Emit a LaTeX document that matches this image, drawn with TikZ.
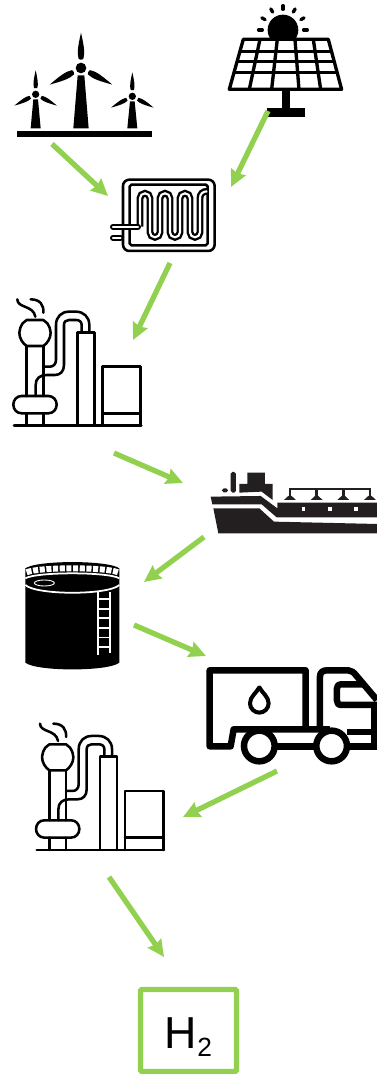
\documentclass[tikz,border=0pt]{standalone}
\usepackage{fontspec}
\setmainfont{Liberation Sans}
\usetikzlibrary{arrows.meta}
\definecolor{flowgreen}{HTML}{92D050}
\definecolor{shipblack}{HTML}{231F20}
\tikzset{
  flowarrow/.style={-{Stealth[length=9.5pt, width=9pt, inset=1pt]}, line width=3pt, flowgreen},
  h2box/.style={draw=flowgreen, line width=3pt, rounded corners=0.8pt, outer sep=0pt, minimum width=1.92cm, minimum height=1.64cm, inner sep=0pt},
  iconpart/.style={shift={#1}, scale=0.3333},
  thinline/.style={line width=1.45pt, line join=round, line cap=round},
  truckline/.style={line width=3.7pt, line join=round},
  whiteline/.style={white, line width=0.95pt}
}
\newcommand{\turbine}[5]{% hub x, hub y, scale, tower top half width, tower bottom half width
  \begin{scope}[shift={(#1,#2)}, scale=#3]
    \foreach \bladeangle in {90,208,332}
      \fill[rotate=\bladeangle] (27,-7) .. controls (45,-13) and (70,-8) .. (106,0) .. controls (70,8) and (45,13) .. (27,7) .. controls (24,3) and (24,-3) .. cycle;
    \fill (0,0) circle (16);
  \end{scope}
  \fill (#1-#4,#2+22*#3) -- (#1+#4,#2+22*#3) -- (#1+#5,385) -- (#1-#5,385) -- cycle;
}
\newcommand{\refinery}{%
  \draw[thinline] (42,467) -- (424,467);
  \draw[thinline] (307,467) -- (307,290) -- (422,290) -- (422,467) (307,430) -- (422,430);
  \draw[thinline] (232,467) -- (232,187) -- (283,187) -- (283,467);
  \draw[thinline] (268,187) -- (268,165) .. controls (268,140) and (250,125) .. (228,125) -- (207,125) .. controls (185,125) and (168,140) .. (168,165) -- (168,270) .. controls (168,282) and (160,290) .. (150,290) -- (130,290);
  \draw[thinline] (245,187) -- (245,165) .. controls (245,155) and (238,150) .. (228,150) -- (207,150) .. controls (198,150) and (192,155) .. (192,165) -- (192,285) .. controls (192,305) and (180,315) .. (165,315) -- (140,315) .. controls (120,315) and (107,325) .. (107,345) -- (107,378);
  \draw[thinline] (80,228) -- (80,378) (130,228) -- (130,378) (80,430) -- (80,467) (130,430) -- (130,467);
  \draw[thinline] (80,150) -- (130,150) -- (142,160) .. controls (148,170) and (152,178) .. (152,188) .. controls (152,205) and (142,220) .. (130,228) -- (80,228) .. controls (68,220) and (58,205) .. (58,188) .. controls (58,178) and (62,170) .. (68,160) -- cycle;
  \draw[thinline] (65,378) -- (145,378) .. controls (160,378) and (170,390) .. (170,404) .. controls (170,418) and (160,430) .. (145,430) -- (65,430) .. controls (50,430) and (40,418) .. (40,404) .. controls (40,390) and (50,378) .. (65,378) -- cycle;
  \draw[thinline] (52,88) .. controls (52,115) and (100,105) .. (106,140);
  \draw[thinline] (92,88) .. controls (120,88) and (132,105) .. (130,128);
}
\begin{document}
\begin{tikzpicture}[x=0.02cm, y=-0.02cm]
  \useasboundingbox (0,0) rectangle (377,1074);
  % wind park and solar panel
  \begin{scope}[iconpart={(0,0)}]
    \turbine{243}{204}{1}{10}{23}
    \turbine{107}{283}{0.68}{7}{15}
    \turbine{397}{289}{0.68}{7}{15}
    \fill (52,393) rectangle (456,410);
    \begin{scope}
      \clip (780,0) rectangle (920,118);
      \fill (849,90) circle (46);
    \end{scope}
    \foreach \rayangle in {0,-30,...,-180}
      \draw[line width=1.9pt, line cap=round] (849,90) ++(\rayangle:62) -- ++(\rayangle:11);
    \draw[line width=1.9pt, line join=round] (730,118) -- (985,118) -- (1025,268) -- (688,268) -- cycle;
    \draw[line width=1.9pt] (720,155) -- (995,155) (711,185) -- (1003,185) (702,217) -- (1012,217);
    \draw[line width=1.9pt] (780,118) -- (748,268) (832,118) -- (815,268) (885,118) -- (897,268) (940,118) -- (962,268);
    \fill (845,268) rectangle (870,330);
    \fill (800,325) rectangle (915,350);
    % electrolyser
    \draw[thinline, rounded corners=3.6pt] (369,539) rectangle (644,753);
    \draw[thinline, rounded corners=1pt] (389,554) rectangle (623,736);
    \foreach \tubewidth/\tubecolor in {3.9pt/black, 1.2pt/white}
      \draw[line width=\tubewidth, \tubecolor] (420,680) -- (420,595) arc[start angle=180, end angle=360, radius=15] -- (450,697) arc[start angle=180, end angle=0, radius=15] -- (480,595) arc[start angle=180, end angle=360, radius=15] -- (510,697) arc[start angle=180, end angle=0, radius=15] -- (540,595) arc[start angle=180, end angle=360, radius=15] -- (570,697) arc[start angle=180, end angle=0, radius=15] -- (600,595) .. controls (600,582) and (608,574) .. (622,574);
    \foreach \tubewidth/\tubecolor in {3.4pt/black, 1.2pt/white}
      \draw[line width=\tubewidth, \tubecolor, line cap=round] (339,680) -- (414,680) (339,713) -- (362,713);
  \end{scope}
  \begin{scope}[iconpart={(0,270)}]
    \refinery
    % ship
    \fill[shipblack] (632,680) -- (782,678) -- (832,715) -- (832,698) -- (1131,698) -- (1131,742) -- (830,742) -- (785,703) -- (637,703) -- cycle;
    \fill[shipblack] (640,715) -- (778,715) -- (822,755) -- (1131,762) -- (1131,790) -- (655,790) -- cycle;
    \fill[shipblack] (718,642) -- (742,642) -- (742,608) -- (795,608) -- (795,642) -- (818,642) -- (818,690) -- (785,665) -- (718,668) -- cycle;
    \fill[shipblack, rounded corners=1pt] (692,606) rectangle (708,668);
    \fill[shipblack, rounded corners=1pt] (666,655) rectangle (684,667);
    \draw[shipblack, line width=1.5pt] (868,657) -- (1113,657);
    \foreach \railx in {870,950,1030,1110} {
      \draw[shipblack, line width=1.5pt] (\railx,657) -- (\railx,680);
      \fill[shipblack] (\railx-18,690) -- (\railx-5,678) -- (\railx+5,678) -- (\railx+18,690) -- cycle;
    }
    \foreach \windowx in {906,985,1063}
      \fill[white] (\windowx,712) rectangle ++(10,11);
  \end{scope}
  \begin{scope}[iconpart={(0,540)}]
    % storage tank
    \fill (76,140) -- (76,368) .. controls (110,395) and (325,395) .. (358,368) -- (358,140) -- cycle;
    \fill (76,85) .. controls (110,60) and (325,60) .. (358,85) -- (358,140) .. controls (325,166) and (110,166) .. (76,140) -- cycle;
    \draw[white, line width=3.4pt, dash pattern=on 2.9pt off 0.9pt] (80,97) .. controls (115,81) and (320,81) .. (354,97);
    \draw[white, line width=1pt] (76,115) .. controls (110,95) and (325,95) .. (358,115);
    \draw[white, line width=1pt] (76,135) .. controls (110,166) and (325,166) .. (358,135);
    \draw[white, line width=0.5pt] (133,129) ellipse (30 and 9);
    \draw[whiteline] (295,155) -- (295,345) (330,155) -- (330,340);
    \foreach \rungy in {178,207,235,264,293,322}
      \draw[whiteline] (295,\rungy) -- (330,\rungy);
    % truck
    \draw[truckline] (917,568) -- (917,391) -- (629,391) -- (629,619) -- (692,619) -- (701,568) -- (990,568);
    \draw[truckline] (1040,576) -- (1131,576);
    \draw[truckline] (960,568) -- (960,410) .. controls (960,398) and (968,391) .. (980,391) -- (1045,391) .. controls (1055,391) and (1062,398) .. (1070,408) -- (1131,480);
    \draw[truckline] (1090,433) -- (1025,433) .. controls (1015,433) and (1011,438) .. (1011,445) -- (1011,482) .. controls (1011,490) and (1015,495) .. (1025,495) -- (1131,495);
    \draw[truckline] (1122,490) -- (1122,625) (830,619) -- (945,619) (1050,619) -- (1131,619);
    \foreach \wheelx in {778,995}
      \draw[truckline, fill=white] (\wheelx,618) circle (46);
    \draw[line width=2.3pt, line join=round] (778,442) .. controls (770,458) and (750,470) .. (750,490) .. controls (750,505) and (763,518) .. (778,518) .. controls (793,518) and (806,505) .. (806,490) .. controls (806,470) and (786,458) .. cycle;
  \end{scope}
  \begin{scope}[iconpart={(22.7,694.3)}]
    \refinery
  \end{scope}
  \node[h2box, font=\fontsize{25.5}{25.5}\selectfont, text height=20pt, text depth=0pt] (h2) at (188.5,1030.5) {H\raisebox{-5pt}{\fontsize{15}{15}\selectfont 2}};
  \coordinate (windout) at (52,144);
  \coordinate (solarout) at (268,111);
  \coordinate (elecin) at (108,196);
  \coordinate (elecin2) at (231,187);
  \coordinate (elecout) at (170,263);
  \coordinate (refin) at (133,340);
  \coordinate (refout) at (114,453);
  \coordinate (shipin) at (183,483);
  \coordinate (shipout) at (204,537);
  \coordinate (tankin) at (144,582);
  \coordinate (tankout) at (134,625);
  \coordinate (truckin) at (206,656);
  \coordinate (truckout) at (277,771);
  \coordinate (ref2in) at (183,817);
  \coordinate (ref2out) at (109,877);
  \coordinate (h2in) at (164,957);
  \draw[flowarrow] (windout) -- (elecin);
  \draw[flowarrow] (solarout) -- (elecin2);
  \draw[flowarrow] (elecout) -- (refin);
  \draw[flowarrow] (refout) -- (shipin);
  \draw[flowarrow] (shipout) -- (tankin);
  \draw[flowarrow] (tankout) -- (truckin);
  \draw[flowarrow] (truckout) -- (ref2in);
  \draw[flowarrow] (ref2out) -- (h2in);
\end{tikzpicture}
\end{document}
